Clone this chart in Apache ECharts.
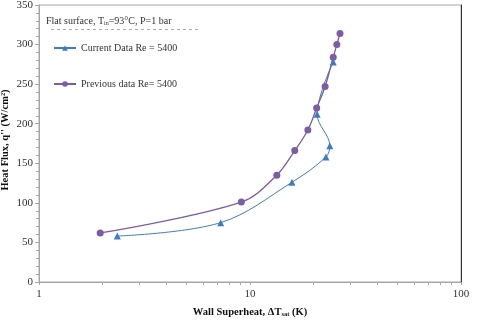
<!DOCTYPE html>
<html>
<head>
<meta charset="utf-8">
<script src="https://cdn.jsdelivr.net/npm/echarts@6/dist/echarts.min.js"></script>
<style>
  html, body { margin: 0; padding: 0; background: #fff; }
  #chart { width: 478px; height: 320px; }
</style>
</head>
<body>
<div id="chart"></div>
<script>
// superheat (K) and heat flux (W/cm2)
const currentX = [2.35, 7.26, 15.8, 22.9, 23.9, 20.8, 24.8]
const currentY = [58, 75, 126, 158, 172, 212, 278]
const previousX = [1.95, 9.1, 13.4, 16.3, 18.8, 20.7, 22.7, 24.8, 25.8, 26.7]
const previousY = [62, 101, 135, 166, 192, 220, 247, 284, 300, 314]
const xTicks = [1, 2, 3, 4, 5, 6, 7, 8, 9, 10, 20, 30, 40, 50, 60, 70, 80, 90, 100]
const xLabels = [1, 10, 100]
const yTicks = [0, 50, 100, 150, 200, 250, 300, 350]

const serif = '"Liberation Serif", "DejaVu Serif", serif'
const purple = '#7d5ca6'
const blue = '#3d7cc4'

const chart = echarts.init(document.getElementById('chart'))

const pairs = (xs, ys) => xs.map((x, i) => [x, ys[i]])

chart.setOption({
  animation: false,
  backgroundColor: '#fff',
  textStyle: { fontFamily: serif },
  grid: {
    left: 39, right: 17, top: 5, bottom: 38,
    outerBoundsMode: 'none',
    show: true, borderColor: '#a6a6a6', borderWidth: 1
  },
  legend: {
    orient: 'vertical',
    left: 53,
    top: 43,
    padding: 0,
    itemWidth: 22,
    itemHeight: 7,
    itemGap: 26,
    textStyle: { fontFamily: serif, fontSize: 10, color: '#333' },
    data: ['Current Data Re = 5400', 'Previous data Re= 5400']
  },
  graphic: [
    {
      type: 'text',
      left: 46,
      top: 16,
      style: {
        text: '{n|Flat surface, T}{s|in}{n|=93°C, P=1 bar}',
        rich: {
          n: { fontFamily: serif, fontSize: 10, fill: '#333' },
          s: { fontFamily: serif, fontSize: 6, fill: '#333', padding: [5, 0, 0, 0] }
        }
      }
    },
    {
      type: 'line',
      shape: { x1: 51, y1: 29.5, x2: 198, y2: 29.5 },
      style: { stroke: '#aaa', lineWidth: 1, lineDash: [3, 3] }
    },
    {
      type: 'text',
      x: 5,
      y: 140,
      rotation: Math.PI / 2,
      style: {
        text: "Heat Flux, q'' (W/cm²)",
        font: 'bold 10.5px ' + serif,
        fill: '#111',
        align: 'center',
        verticalAlign: 'middle'
      }
    }
  ],
  xAxis: {
    type: 'log',
    logBase: 10,
    min: 1,
    max: 100,
    name: '{b|Wall Superheat, ΔT}{s|sat}{b| (K)}',
    nameLocation: 'middle',
    nameGap: 24,
    nameTextStyle: {
      rich: {
        b: { fontFamily: serif, fontSize: 10.5, fontWeight: 'bold', color: '#111' },
        s: { fontFamily: serif, fontSize: 6.5, fontWeight: 'bold', color: '#111', padding: [5, 0, 0, 0] }
      }
    },
    axisLine: { lineStyle: { color: '#a6a6a6', width: 1 } },
    axisTick: { show: true, length: 3, customValues: xTicks, lineStyle: { color: '#a6a6a6' } },
    axisLabel: { customValues: xLabels, fontFamily: serif, fontSize: 11, color: '#333', margin: 7 },
    splitLine: { show: false }
  },
  yAxis: [
    {
      type: 'value',
      min: 0,
      max: 350,
      interval: 50,
      axisLine: { show: true, lineStyle: { color: '#a6a6a6', width: 1 } },
      axisTick: { show: true, length: 4, lineStyle: { color: '#a6a6a6' } },
      minorTick: { show: true, splitNumber: 5, length: 3, lineStyle: { color: '#a6a6a6' } },
      axisLabel: {
        fontFamily: serif,
        fontSize: 11,
        color: '#333',
        margin: 6,
        formatter: (v) => (yTicks.includes(v) ? String(v) : '')
      },
      splitLine: { show: false }
    },
    {
      type: 'value',
      position: 'right',
      min: 0,
      max: 350,
      axisLine: { show: true, lineStyle: { color: '#333', width: 1 } },
      axisTick: { show: false },
      axisLabel: { show: false },
      splitLine: { show: false }
    }
  ],
  series: [
    {
      name: 'Current Data Re = 5400',
      type: 'line',
      smooth: 0.35,
      symbol: 'triangle',
      symbolSize: 7,
      itemStyle: { color: blue },
      lineStyle: { color: blue, width: 1 },
      data: pairs(currentX, currentY)
    },
    {
      name: 'Previous data Re= 5400',
      type: 'line',
      smooth: 0.35,
      symbol: 'circle',
      symbolSize: 7,
      itemStyle: { color: purple },
      lineStyle: { color: purple, width: 1.3 },
      data: pairs(previousX, previousY)
    }
  ]
})
</script>
</body>
</html>
